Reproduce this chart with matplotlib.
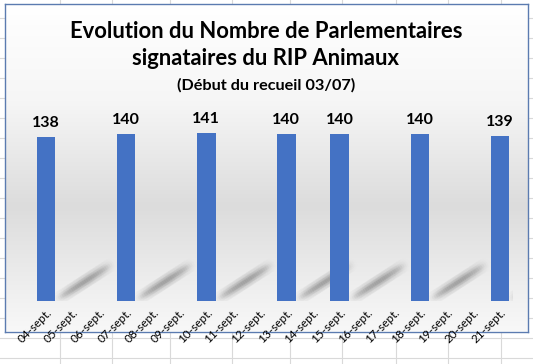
import numpy as np
import matplotlib
matplotlib.use("Agg")
import matplotlib.pyplot as plt
from matplotlib.colors import LinearSegmentedColormap
from matplotlib.collections import LineCollection

plt.rcParams['font.family'] = ['Lato', 'DejaVu Sans']

jours = ['04-sept.', '05-sept.', '06-sept.', '07-sept.', '08-sept.', '09-sept.',
         '10-sept.', '11-sept.', '12-sept.', '13-sept.', '14-sept.', '15-sept.',
         '16-sept.', '17-sept.', '18-sept.', '19-sept.', '20-sept.', '21-sept.']
signataires = [138, np.nan, np.nan, 140, np.nan, np.nan,
               141, np.nan, np.nan, 140, np.nan, 140,
               np.nan, np.nan, 140, np.nan, np.nan, 139]

titre = "Evolution du Nombre de Parlementaires\nsignataires du RIP Animaux"
sous_titre = "(Début du recueil 03/07)"

W, H = 533, 364
fig = plt.figure(figsize=(W / 100, H / 100), dpi=100)
fig.patch.set_facecolor('white')

# fond type tableur (quadrillage des cellules)
grille = fig.add_axes([0, 0, 1, 1], zorder=0)
grille.set_xlim(0, W)
grille.set_ylim(H, 0)
grille.axis('off')
for yy in range(18, H, 20):
    grille.axhline(yy, color='#d9d9d9', lw=0.8)
for xx in [60, 112, 170, 232, 290, 342, 396, 448, 501]:
    grille.axvline(xx, color='#d9d9d9', lw=0.8)

# cadre du graphique avec dégradé gris
bx0, by0, bx1, by1 = 4.5, 3.5, 527.5, 331.5
fond = fig.add_axes([bx0 / W, 1 - by1 / H, (bx1 - bx0) / W, (by1 - by0) / H], zorder=1)
degrade = LinearSegmentedColormap.from_list(
    'fond', [(0, '#ffffff'), (0.3, '#f6f6f6'), (0.62, '#dcdcdc'),
             (0.78, '#e8e8e8'), (1, '#f8f8f8')])
fond.imshow(np.linspace(0, 1, 256).reshape(-1, 1), aspect='auto', cmap=degrade,
            extent=[0, 1, 0, 1], origin='upper')
fond.set_xlim(0, 1)
fond.set_ylim(0, 1)
fond.set_xticks([])
fond.set_yticks([])
for s in fond.spines.values():
    s.set_edgecolor('#5b7bb0')
    s.set_linewidth(1.0)

def y_cadre(py):
    return 1 - (py - by0) / (by1 - by0)

fond.text(0.5, y_cadre(45), titre, transform=fond.transAxes,
          ha='center', va='center', fontsize=15.8, fontweight='bold',
          linespacing=1.3, color='black')
fond.text(0.5, y_cadre(85), sous_titre, transform=fond.transAxes,
          ha='center', va='center', fontsize=11.7, fontweight='bold', color='black')

# zone des barres
ax_l, ax_r, ax_b, ax_t = 32.6, 513.4, 301, 110.6
ax = fig.add_axes([ax_l / W, 1 - ax_b / H, (ax_r - ax_l) / W, (ax_b - ax_t) / H], zorder=2)
ax.patch.set_alpha(0)
x = np.arange(len(jours))
ax.set_xlim(-0.5, len(jours) - 0.5)
ax.set_ylim(0, 160)

# ombres portées diagonales
for xi, v in zip(x, signataires):
    if np.isnan(v):
        continue
    t = np.linspace(0, 1, 30)
    xs = xi + 0.4 + t * 2.0
    ys = 1 + t * 29
    pts = np.column_stack([xs, ys]).reshape(-1, 1, 2)
    segs = np.concatenate([pts[:-1], pts[1:]], axis=1)
    alphas = np.sin(np.pi * t[:-1]) ** 0.8 * 0.1
    for lw, f in [(10, 0.35), (6, 0.6), (3, 1.0)]:
        cols = [(0.45, 0.45, 0.45, a * f) for a in alphas]
        ax.add_collection(LineCollection(segs, colors=cols, linewidths=lw, capstyle='round'))

ax.bar(x, np.nan_to_num(signataires), width=0.7, color='#4472c4', zorder=3)
for xi, v in zip(x, signataires):
    if not np.isnan(v):
        ax.annotate(f"{int(v)}", (xi, v), xytext=(0, 5), textcoords='offset points',
                    ha='center', va='bottom', fontsize=11.5, fontweight='bold', color='black')

ax.set_yticks([])
ax.set_xticks(x)
ax.set_xticklabels(jours, rotation=45, ha='right', va='top', rotation_mode='anchor',
                   fontsize=8.5)
ax.tick_params(axis='x', length=0, pad=4)
for s in ax.spines.values():
    s.set_visible(False)

fig.savefig('out.png', dpi=100)
